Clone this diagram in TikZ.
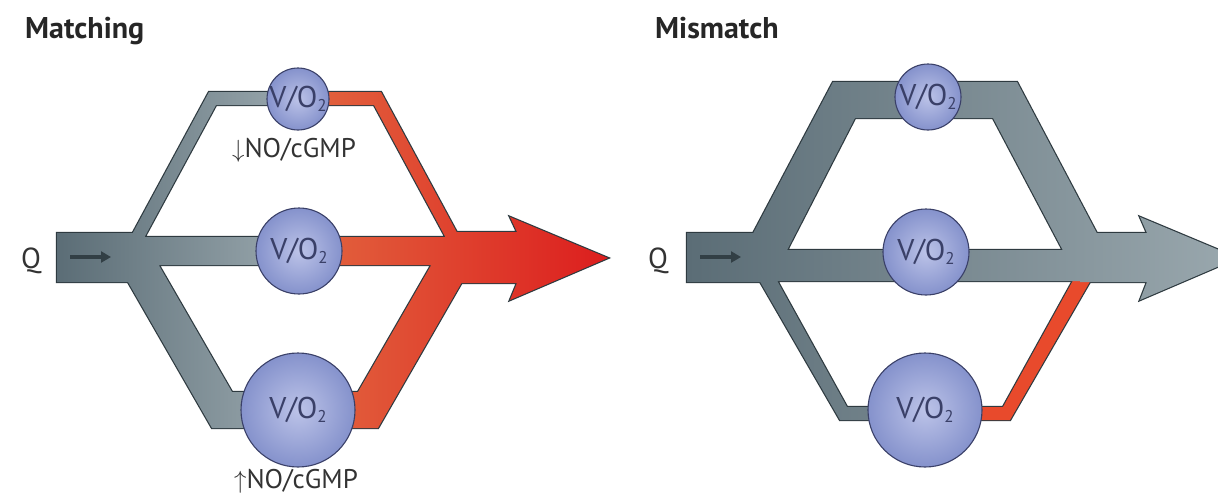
\documentclass[tikz,border=0pt]{standalone}
\usepackage{fontspec}
\setmainfont{PT Sans}
\usepackage{tikz}
\usetikzlibrary{arrows.meta}

\definecolor{rim}{HTML}{2E3A40}
\definecolor{slatedark}{HTML}{5B6D76}
\definecolor{slatelight}{HTML}{9AA8AE}
\definecolor{redsoft}{HTML}{E2663F}
\definecolor{reddeep}{HTML}{DC1E1E}
\definecolor{redbranch}{HTML}{E84A2C}
\definecolor{ballin}{HTML}{BCC3E8}
\definecolor{ballout}{HTML}{8592CC}
\definecolor{ballrim}{HTML}{3A4068}
\definecolor{ink}{HTML}{333333}

% vessel outlines (1 unit = 1 px of the figure)
\newcommand{\matchgray}{
  (57,233) -- (140,233) -- (140,282) -- (57,282) -- cycle
  (130,237) -- (299,237) -- (299,265) -- (130,265) -- cycle
  (129,240) -- (209,92) -- (298,92) -- (298,105) -- (216,105) -- (143,240) -- cycle
  (116.5,262) -- (157,262) -- (232,392) -- (298,392) -- (298,428) -- (212,428) -- cycle}
\newcommand{\matchred}{
  (299,237) -- (460,237) -- (460,265) -- (299,265) -- cycle
  (450,232) -- (517,232) -- (510,217) -- (608,258) -- (510,300) -- (517,283) -- (450,283) -- cycle
  (298,92) -- (381,92) -- (461,240) -- (447,240) -- (374,105) -- (298,105) -- cycle
  (298,392) -- (358,392) -- (433,262) -- (473.5,262) -- (378,428) -- (298,428) -- cycle}
\newcommand{\mismatchgray}{
  (687,233) -- (770,233) -- (770,282) -- (687,282) -- cycle
  (760,250) -- (1100,250) -- (1100,281) -- (760,281) -- cycle
  (739,260) -- (833,82) -- (1017,82) -- (1111,260) -- (1068,260) -- (993,118) -- (855,118) -- (782,260) -- cycle
  (751,266) -- (769,266) -- (847,407) -- (925,407) -- (925,420) -- (840,420) -- cycle
  (1080,233) -- (1147,233) -- (1140,217) -- (1238,258) -- (1140,300) -- (1147,282) -- (1080,282) -- cycle}
\newcommand{\mismatchred}{
  (925,407) -- (1003,407) -- (1081,266) -- (1099,266) -- (1010,420) -- (925,420) -- cycle}
\newcommand{\vo}{\makebox[0pt]{V/O\raisebox{-4pt}{\fontsize{17}{17}\selectfont 2}}}

\begin{document}
\begin{tikzpicture}[
  x=1pt, y=-1pt,
  vesselrim/.style={draw=rim, line width=2.4pt, line join=miter},
  ball/.style={circle, draw=ballrim, line width=1.1pt, inner sep=0pt,
               inner color=ballin, outer color=ballout,
               font=\fontsize{30}{30}\selectfont, text=ballrim},
  lab/.style={font=\fontsize{27}{30}\selectfont, text=ink, inner sep=0pt},
  ttl/.style={font=\fontsize{30}{34}\selectfont\bfseries, text=black!85,
              inner sep=0pt, anchor=base west},
  flow/.style={draw=rim!90!slatedark, line width=3.5pt,
               -{Triangle[length=10pt,width=11pt]}}]

\useasboundingbox (0,0) rectangle (1218,498);
\clip (0,0) rectangle (1218,498);

% outlines first, fills on top, so junctions merge
\draw[vesselrim] \matchgray;
\draw[vesselrim] \matchred;
\draw[vesselrim] \mismatchgray;
\draw[vesselrim] \mismatchred;
\path[left color=slatedark, right color=slatelight] \matchgray;
\path[left color=redsoft, right color=reddeep] \matchred;
\path[fill=redbranch] \mismatchred;
\path[left color=slatedark, right color=slatelight] \mismatchgray;

% flow direction in the trunks
\coordinate (inA1) at (70,257);  \coordinate (inA2) at (111,257);
\coordinate (inB1) at (700,257); \coordinate (inB2) at (741,257);
\draw[flow] (inA1) -- (inA2);
\draw[flow] (inB1) -- (inB2);

% matching
\node[ttl] (ttlA) at (25,38) {Matching};
\node[lab, font=\fontsize{29}{30}\selectfont] (qA) at (31,261) {Q};
\node[ball, minimum size=62pt] (topA) at (298,99) {\vo};
\node[ball, minimum size=86pt] (midA) at (299,251) {\vo};
\node[ball, minimum size=114pt] (lowA) at (298,410) {\vo};
\node[lab] (noA) at (294,150) {$\downarrow$NO/cGMP};
\node[lab] (noB) at (296,481) {$\uparrow$NO/cGMP};

% mismatch
\node[ttl] (ttlB) at (655,38) {Mismatch};
\node[lab, font=\fontsize{29}{30}\selectfont] (qB) at (658,261) {Q};
\node[ball, minimum size=66pt] (topB) at (928,97) {\vo};
\node[ball, minimum size=86pt] (midB) at (926,252) {\vo};
\node[ball, minimum size=114pt] (lowB) at (925,410) {\vo};
\end{tikzpicture}
\end{document}
